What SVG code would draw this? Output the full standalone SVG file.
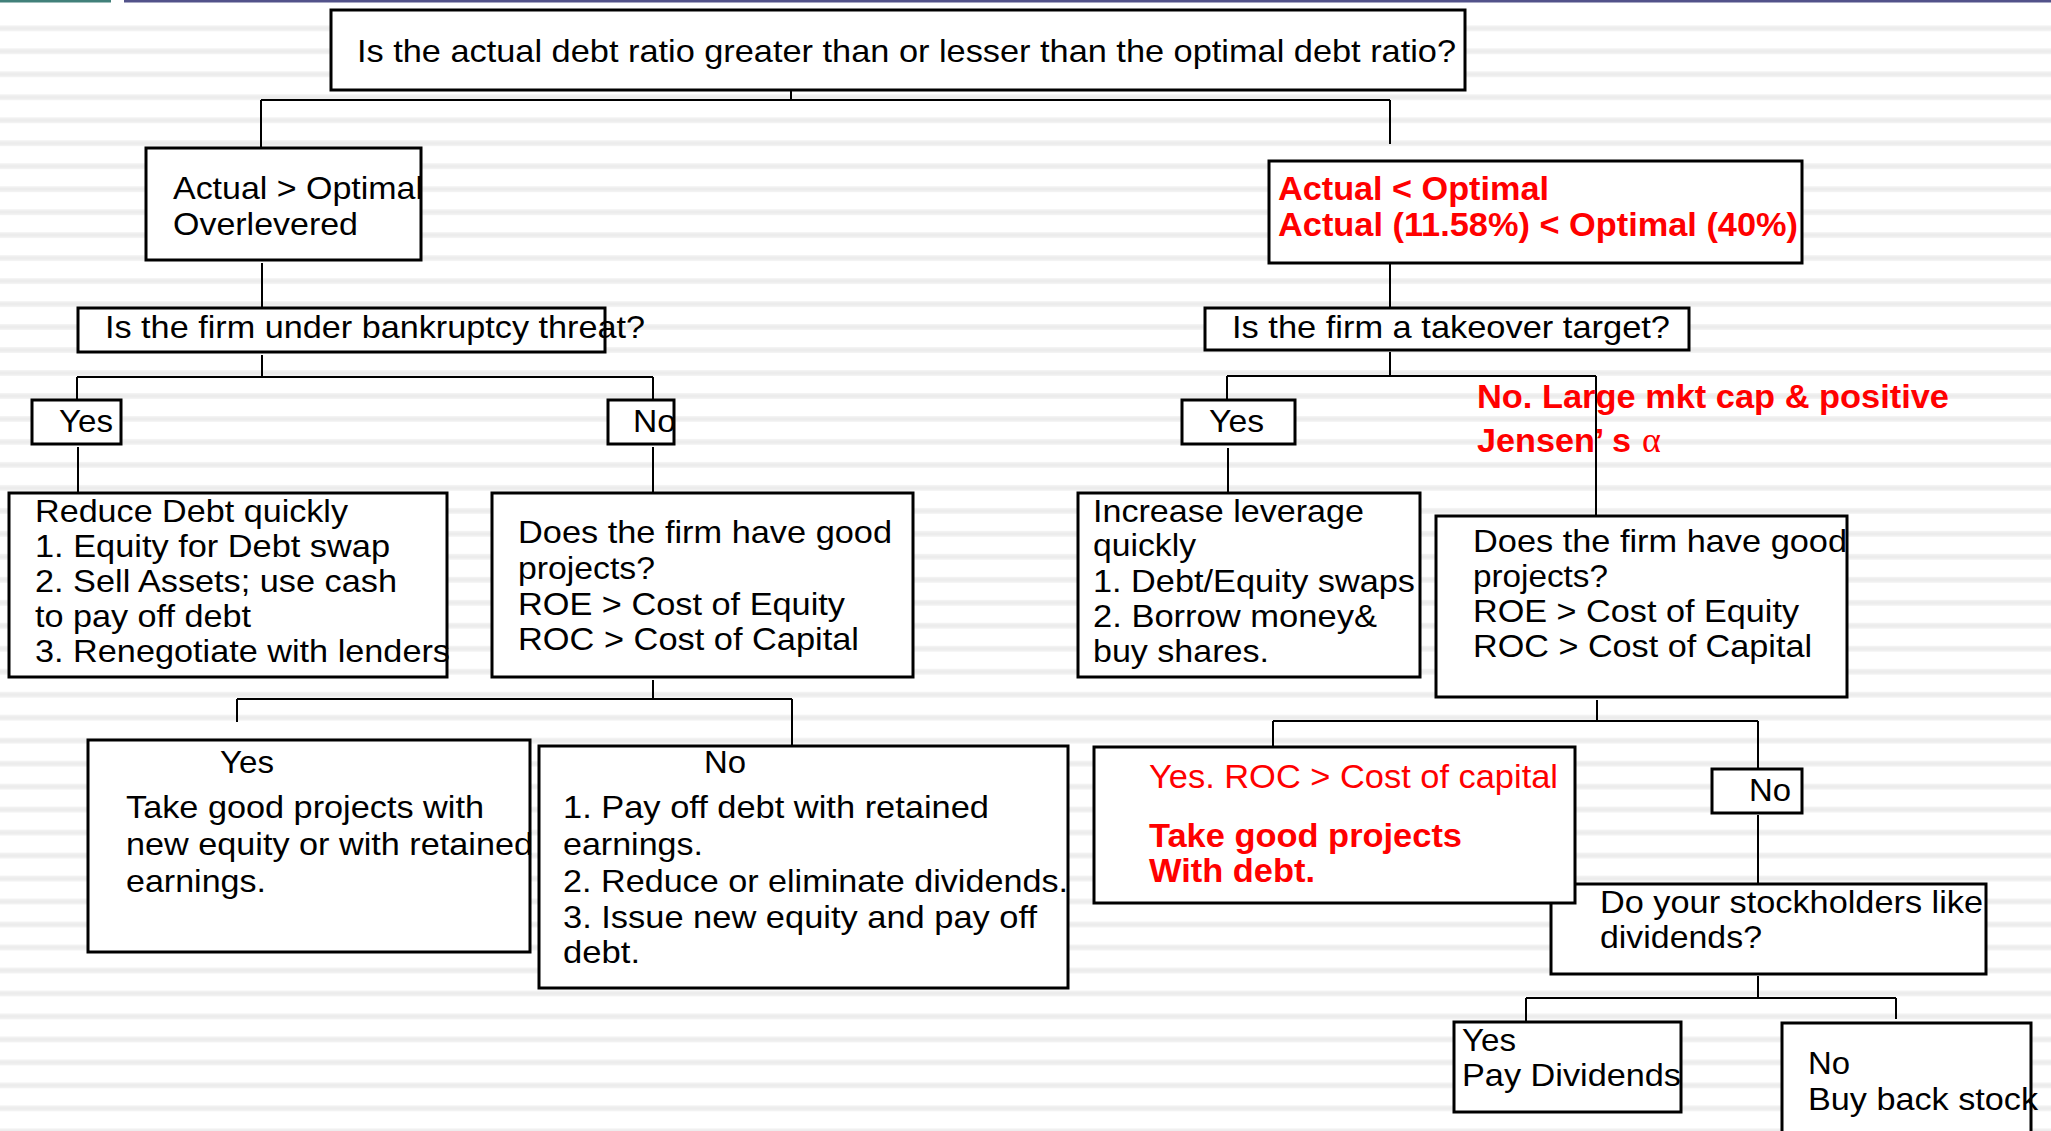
<svg xmlns="http://www.w3.org/2000/svg" width="2051" height="1131" viewBox="0 0 2051 1131">
<defs>
<pattern id="stripes" patternUnits="userSpaceOnUse" x="0" y="25.3" width="40" height="22.98">
<rect x="0" y="0" width="40" height="6" fill="#f3f3f3"/>
<rect x="0" y="1.5" width="40" height="3" fill="#ececec"/>
</pattern>
<style>
.box{fill:#fff;stroke:#000;stroke-width:3}
.con{fill:none;stroke:#000;stroke-width:2}
.t{font-family:"Liberation Sans",Arial,sans-serif;font-size:31.5px;fill:#000}
.r{font-family:"Liberation Sans",Arial,sans-serif;font-size:33px;fill:#ff0000}
.rb{font-family:"Liberation Sans",Arial,sans-serif;font-size:33px;font-weight:bold;fill:#ff0000}
</style>
</defs>
<rect x="0" y="0" width="2051" height="1131" fill="#fff"/>
<rect x="0" y="20" width="2051" height="1111" fill="url(#stripes)"/>
<rect x="0" y="0" width="111" height="2.5" fill="#41807a"/>
<rect x="124" y="0" width="1927" height="2.5" fill="#52528a"/>

<g id="connectors">
<path class="con" d="M791 80V100M261 100H1390M261 100V148M1390 100V144"/>
<path class="con" d="M262 263V308M1390 263V308"/>
<path class="con" d="M262 355V377M77 377H653M77 377V400M653 377V400"/>
<path class="con" d="M78 447V493M653 447V493"/>
<path class="con" d="M653 680V699M237 699H792M237 699V722M792 699V746"/>
<path class="con" d="M1390 352V376M1227 376H1596M1227 376V400M1596 376V516"/>
<path class="con" d="M1228 448V493"/>
<path class="con" d="M1597 700V721M1273 721H1758M1273 721V747M1758 721V769"/>
<path class="con" d="M1758 815V884"/>
<path class="con" d="M1758 976V998M1526 998H1896M1526 998V1023M1896 998V1019"/>
</g>

<g id="n-top">
<rect class="box" x="331" y="10" width="1134" height="80"/>
<text class="t" x="357" y="62" textLength="1099" lengthAdjust="spacingAndGlyphs">Is the actual debt ratio greater than or lesser than the optimal debt ratio?</text>
</g>

<g id="n-over">
<rect class="box" x="146" y="148" width="275" height="112"/>
<text class="t" x="173" y="199" textLength="250" lengthAdjust="spacingAndGlyphs">Actual &gt; Optimal</text>
<text class="t" x="173" y="235" textLength="185" lengthAdjust="spacingAndGlyphs">Overlevered</text>
</g>

<g id="n-bankruptcy">
<rect class="box" x="78" y="308" width="527" height="44"/>
<text class="t" x="105" y="338" textLength="540" lengthAdjust="spacingAndGlyphs">Is the firm under bankruptcy threat?</text>
</g>

<g id="n-yesL">
<rect class="box" x="32" y="400" width="89" height="44"/>
<text class="t" x="59" y="432" textLength="54" lengthAdjust="spacingAndGlyphs">Yes</text>
</g>

<g id="n-noL">
<rect class="box" x="608" y="400" width="66" height="44"/>
<text class="t" x="633" y="432" textLength="43" lengthAdjust="spacingAndGlyphs">No</text>
</g>

<g id="n-reduce">
<rect class="box" x="9" y="493" width="438" height="184"/>
<text class="t" x="35" y="522" textLength="313" lengthAdjust="spacingAndGlyphs">Reduce Debt quickly</text>
<text class="t" x="35" y="557" textLength="355" lengthAdjust="spacingAndGlyphs">1. Equity for Debt swap</text>
<text class="t" x="35" y="592" textLength="362" lengthAdjust="spacingAndGlyphs">2. Sell Assets; use cash</text>
<text class="t" x="35" y="627" textLength="216" lengthAdjust="spacingAndGlyphs">to pay off debt</text>
<text class="t" x="35" y="662" textLength="415" lengthAdjust="spacingAndGlyphs">3. Renegotiate with lenders</text>
</g>

<g id="n-doesL">
<rect class="box" x="492" y="493" width="421" height="184"/>
<text class="t" x="518" y="543" textLength="374" lengthAdjust="spacingAndGlyphs">Does the firm have good</text>
<text class="t" x="518" y="579" textLength="137" lengthAdjust="spacingAndGlyphs">projects?</text>
<text class="t" x="518" y="615" textLength="327" lengthAdjust="spacingAndGlyphs">ROE &gt; Cost of Equity</text>
<text class="t" x="518" y="650" textLength="341" lengthAdjust="spacingAndGlyphs">ROC &gt; Cost of Capital</text>
</g>

<g id="n-takeYes">
<rect class="box" x="88" y="740" width="442" height="212"/>
<text class="t" x="220" y="773" textLength="54" lengthAdjust="spacingAndGlyphs">Yes</text>
<text class="t" x="126" y="818" textLength="358" lengthAdjust="spacingAndGlyphs">Take good projects with</text>
<text class="t" x="126" y="855" textLength="407" lengthAdjust="spacingAndGlyphs">new equity or with retained</text>
<text class="t" x="126" y="892" textLength="140" lengthAdjust="spacingAndGlyphs">earnings.</text>
</g>

<g id="n-payNo">
<rect class="box" x="539" y="746" width="529" height="242"/>
<text class="t" x="704" y="773" textLength="42" lengthAdjust="spacingAndGlyphs">No</text>
<text class="t" x="563" y="818" textLength="426" lengthAdjust="spacingAndGlyphs">1. Pay off debt with retained</text>
<text class="t" x="563" y="855" textLength="140" lengthAdjust="spacingAndGlyphs">earnings.</text>
<text class="t" x="563" y="892" textLength="505" lengthAdjust="spacingAndGlyphs">2. Reduce or eliminate dividends.</text>
<text class="t" x="563" y="928" textLength="474" lengthAdjust="spacingAndGlyphs">3. Issue new equity and pay off</text>
<text class="t" x="563" y="963" textLength="77" lengthAdjust="spacingAndGlyphs">debt.</text>
</g>

<g id="n-under">
<rect class="box" x="1269" y="161" width="533" height="102"/>
<text class="rb" x="1278" y="200" textLength="271" lengthAdjust="spacingAndGlyphs">Actual &lt; Optimal</text>
<text class="rb" x="1278" y="236" textLength="520" lengthAdjust="spacingAndGlyphs">Actual (11.58%) &lt; Optimal (40%)</text>
</g>

<g id="n-takeover">
<rect class="box" x="1205" y="308" width="484" height="42"/>
<text class="t" x="1232" y="338" textLength="438" lengthAdjust="spacingAndGlyphs">Is the firm a takeover target?</text>
</g>

<g id="n-yesR">
<rect class="box" x="1182" y="400" width="113" height="44"/>
<text class="t" x="1209" y="432" textLength="55" lengthAdjust="spacingAndGlyphs">Yes</text>
</g>

<g id="n-noLarge">
<text class="rb" x="1477" y="408" textLength="472" lengthAdjust="spacingAndGlyphs">No. Large mkt cap &amp; positive</text>
<text class="rb" x="1477" y="452" textLength="154" lengthAdjust="spacingAndGlyphs">Jensen’ s</text>
<text x="1642" y="452" style="font-family:'Liberation Serif','DejaVu Serif',serif;font-size:36px;fill:#ff0000">α</text>
</g>

<g id="n-increase">
<rect class="box" x="1078" y="493" width="342" height="184"/>
<text class="t" x="1093" y="522" textLength="271" lengthAdjust="spacingAndGlyphs">Increase leverage</text>
<text class="t" x="1093" y="556" textLength="103" lengthAdjust="spacingAndGlyphs">quickly</text>
<text class="t" x="1093" y="592" textLength="322" lengthAdjust="spacingAndGlyphs">1. Debt/Equity swaps</text>
<text class="t" x="1093" y="627" textLength="284" lengthAdjust="spacingAndGlyphs">2. Borrow money&amp;</text>
<text class="t" x="1093" y="662" textLength="176" lengthAdjust="spacingAndGlyphs">buy shares.</text>
</g>

<g id="n-doesR">
<rect class="box" x="1436" y="516" width="411" height="181"/>
<text class="t" x="1473" y="552" textLength="374" lengthAdjust="spacingAndGlyphs">Does the firm have good</text>
<text class="t" x="1473" y="587" textLength="135" lengthAdjust="spacingAndGlyphs">projects?</text>
<text class="t" x="1473" y="622" textLength="326" lengthAdjust="spacingAndGlyphs">ROE &gt; Cost of Equity</text>
<text class="t" x="1473" y="657" textLength="339" lengthAdjust="spacingAndGlyphs">ROC &gt; Cost of Capital</text>
</g>

<g id="n-dividends">
<rect class="box" x="1551" y="884" width="435" height="90"/>
<text class="t" x="1600" y="913" textLength="383" lengthAdjust="spacingAndGlyphs">Do your stockholders like</text>
<text class="t" x="1600" y="948" textLength="162" lengthAdjust="spacingAndGlyphs">dividends?</text>
</g>

<g id="n-rocYes">
<rect class="box" x="1094" y="747" width="481" height="156"/>
<text class="r" x="1149" y="788" textLength="409" lengthAdjust="spacingAndGlyphs">Yes. ROC &gt; Cost of capital</text>
<text class="rb" x="1149" y="847" textLength="313" lengthAdjust="spacingAndGlyphs">Take good projects</text>
<text class="rb" x="1149" y="882" textLength="166" lengthAdjust="spacingAndGlyphs">With debt.</text>
</g>

<g id="n-noR">
<rect class="box" x="1712" y="769" width="90" height="44"/>
<text class="t" x="1749" y="801" textLength="42" lengthAdjust="spacingAndGlyphs">No</text>
</g>

<g id="n-payDiv">
<rect class="box" x="1454" y="1022" width="227" height="90"/>
<text class="t" x="1462" y="1051" textLength="54" lengthAdjust="spacingAndGlyphs">Yes</text>
<text class="t" x="1462" y="1086" textLength="219" lengthAdjust="spacingAndGlyphs">Pay Dividends</text>
</g>

<g id="n-buyBack">
<rect class="box" x="1782" y="1023" width="249" height="120"/>
<text class="t" x="1808" y="1074" textLength="42" lengthAdjust="spacingAndGlyphs">No</text>
<text class="t" x="1808" y="1110" textLength="230" lengthAdjust="spacingAndGlyphs">Buy back stock</text>
</g>
</svg>
